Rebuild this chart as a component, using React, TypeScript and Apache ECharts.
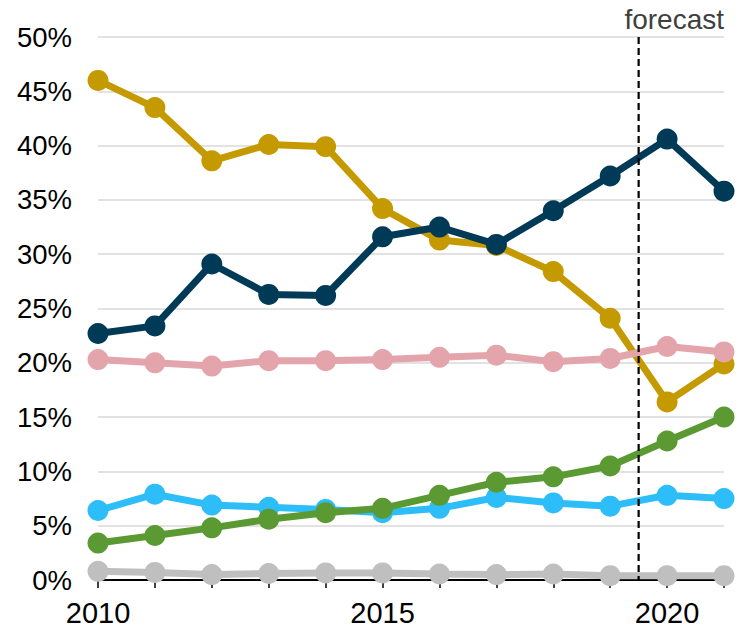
import React, { useEffect, useRef } from "react";
import * as echarts from "echarts";

const years = ["2010", "2011", "2012", "2013", "2014", "2015", "2016", "2017", "2018", "2019", "2020", "2021"];
const goldSeries = [46.0, 43.5, 38.6, 40.1, 39.9, 34.2, 31.3, 30.8, 28.4, 24.1, 16.4, 19.9];
const navySeries = [22.7, 23.4, 29.1, 26.3, 26.2, 31.6, 32.5, 30.9, 34.0, 37.2, 40.6, 35.8];
const pinkSeries = [20.3, 20.0, 19.7, 20.2, 20.2, 20.3, 20.5, 20.7, 20.1, 20.4, 21.5, 21.0];
const blueSeries = [6.4, 7.9, 6.9, 6.7, 6.5, 6.2, 6.6, 7.6, 7.1, 6.8, 7.8, 7.5];
const greenSeries = [3.4, 4.1, 4.8, 5.6, 6.2, 6.6, 7.8, 9.0, 9.5, 10.5, 12.8, 15.0];
const graySeries = [0.8, 0.7, 0.5, 0.6, 0.65, 0.65, 0.55, 0.5, 0.55, 0.4, 0.4, 0.4];
const forecastStartIndex = 9.5;
const forecastLabel = "forecast";

export default function App() {
  const ref = useRef<HTMLDivElement>(null);
  useEffect(() => {
    if (!ref.current) return;
    const chart = echarts.init(ref.current, undefined, { renderer: "svg" });
    const mk = (data: number[], color: string, z: number) => ({
      type: "line",
      data,
      symbol: "circle",
      symbolSize: 21,
      z,
      lineStyle: { color, width: 7 },
      itemStyle: { color },
      emphasis: { disabled: true },
    });
    chart.setOption({
      animation: false,
      textStyle: { fontFamily: "Liberation Sans, Arial, sans-serif" },
      grid: { left: 98, right: 16, top: 37, bottom: 51, containLabel: false },
      xAxis: {
        type: "category",
        data: years,
        boundaryGap: false,
        axisLine: { lineStyle: { color: "#000", width: 2 } },
        axisTick: { show: true, interval: 0, length: 8, lineStyle: { color: "#000", width: 1.5 } },
        axisLabel: { interval: 4, fontSize: 29, color: "#000", margin: 18 },
        splitLine: { show: false },
      },
      yAxis: {
        type: "value",
        min: 0,
        max: 50,
        interval: 5,
        axisLine: { show: false },
        axisTick: { show: false },
        axisLabel: { formatter: "{value}%", fontSize: 27.5, color: "#000", margin: 26 },
        splitLine: { lineStyle: { color: "#d9d9d9", width: 1.5 } },
      },
      series: [
        mk(graySeries, "#bfbfbf", 1),
        mk(blueSeries, "#2dbdf8", 2),
        mk(greenSeries, "#5b9a32", 3),
        mk(goldSeries, "#c49a00", 4),
        mk(navySeries, "#003a56", 5),
        mk(pinkSeries, "#e3a5ab", 6),
      ],
    });
    const x9 = chart.convertToPixel({ xAxisIndex: 0 }, Math.floor(forecastStartIndex)) as number;
    const x10 = chart.convertToPixel({ xAxisIndex: 0 }, Math.ceil(forecastStartIndex)) as number;
    const xf = (x9 + x10) / 2;
    const yTop = chart.convertToPixel({ yAxisIndex: 0 }, 50) as number;
    const yBot = chart.convertToPixel({ yAxisIndex: 0 }, 0) as number;
    chart.setOption({
      graphic: [
        {
          type: "line",
          shape: { x1: xf, y1: yTop, x2: xf, y2: yBot },
          style: { stroke: "#000", lineWidth: 2.2, lineDash: [7, 4] },
          z: 10,
        },
        {
          type: "text",
          x: 724,
          y: 5,
          style: {
            text: forecastLabel,
            fontSize: 28,
            fill: "#404040",
            textAlign: "right",
            textVerticalAlign: "top",
            fontFamily: "Liberation Sans, Arial, sans-serif",
          },
        },
      ],
    });
    return () => chart.dispose();
  }, []);
  return <div ref={ref} style={{ width: 740, height: 631, position: "absolute", left: 0, top: 0 }} />;
}
